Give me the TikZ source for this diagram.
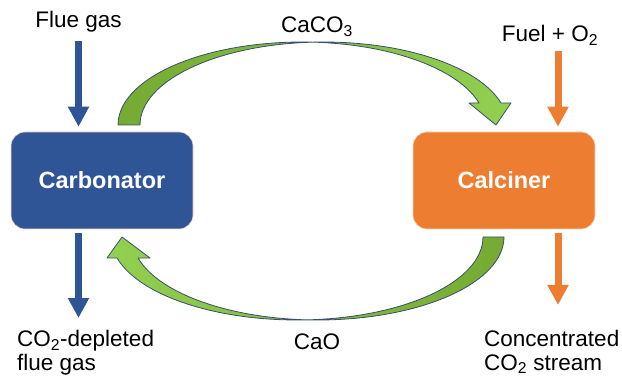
\documentclass[tikz,border=0pt]{standalone}
\usepackage{fontspec}
\setmainfont{Liberation Sans}
\usetikzlibrary{arrows.meta}
\definecolor{carbblue}{RGB}{47,85,151}
\definecolor{calcorange}{RGB}{237,125,49}
\definecolor{greendk}{RGB}{118,170,50}
\definecolor{greenlt}{RGB}{146,208,80}
\definecolor{rimblue}{RGB}{58,78,108}
\tikzset{
	reactor/.style={rounded corners=14pt, minimum width=182pt, minimum height=97pt, fill=#1,
		draw=calcorange!30!white, line width=.6pt, text=white, font=\fontsize{23.5}{27}\selectfont\bfseries},
	lbl/.style={inner sep=0pt},
	outlet/.style={lbl, anchor=north west, align=left, font=\fontsize{22.5}{23.5}\selectfont},
	stream/.style={draw=#1, line width=7pt, -{Triangle[length=20pt,width=20pt]}},
	solids/.style={draw=rimblue, line width=.8pt, line join=round, samples=60},
}
\begin{document}
\begin{tikzpicture}[x=1pt, y=-1pt, font=\fontsize{22.5}{26}\selectfont, line join=round]
	\useasboundingbox (0,0) rectangle (622,377);
	\node[reactor=carbblue] (carb) at (102,180.5) {Carbonator};
	\node[reactor=calcorange] (calc) at (504,180.5) {Calciner};
	\node[lbl, anchor=base] (flue) at (78.5,28) {Flue gas};
	\node[lbl, anchor=base] (fuel) at (550,42) {Fuel + O\textsubscript{2}};
	\node[lbl, anchor=base] (caco) at (317,33) {CaCO\textsubscript{3}};
	\node[lbl, anchor=base] (cao) at (317,349) {CaO};
	\node[outlet] (depl) at (17,330) {CO\textsubscript{2}-depleted\\flue gas};
	\node[outlet] (conc) at (484,330) {Concentrated\\CO\textsubscript{2} stream};
	% gas streams
	\draw[stream=carbblue] ([yshift=-8pt]flue.south) -- ([yshift=5pt]flue.south |- carb.north);
	\draw[stream=calcorange] ([xshift=8pt,yshift=-5pt]fuel.south) -- ([xshift=8pt,yshift=5pt]fuel.south |- calc.north);
	\draw[stream=carbblue] ([yshift=-4pt]flue.south |- carb.south) -- ([yshift=12pt]flue.south |- depl.north);
	\draw[stream=calcorange] ([xshift=8pt,yshift=-4pt]fuel.south |- calc.south) -- ([xshift=8pt,yshift=25pt]fuel.south |- conc.north);
	% solids loop
	\def\rx{183.8} \def\ry{83}
	\def\ca{301.8} \def\cb{323.8} \def\cy{125}
	\shadedraw[solids, left color=greendk, right color=greenlt]
		plot[domain=0:164.63] ({\ca-\rx*cos(\x)},{\cy-\ry*sin(\x)})
		-- (469,103) -- (496,125) -- (511,103)
		-- plot[domain=15.37:180] ({\cb+\rx*cos(\x)},{\cy-\ry*sin(\x)}) -- cycle;
	\def\rx{186} \def\ca{318} \def\cb{297} \def\cy{237}
	\shadedraw[solids, left color=greenlt, right color=greendk]
		plot[domain=0:165.34] ({\ca+\rx*cos(\x)},{\cy+\ry*sin(\x)})
		-- (150,258) -- (122,237) -- (107,258)
		-- plot[domain=14.66:180] ({\cb-\rx*cos(\x)},{\cy+\ry*sin(\x)}) -- cycle;
\end{tikzpicture}
\end{document}
